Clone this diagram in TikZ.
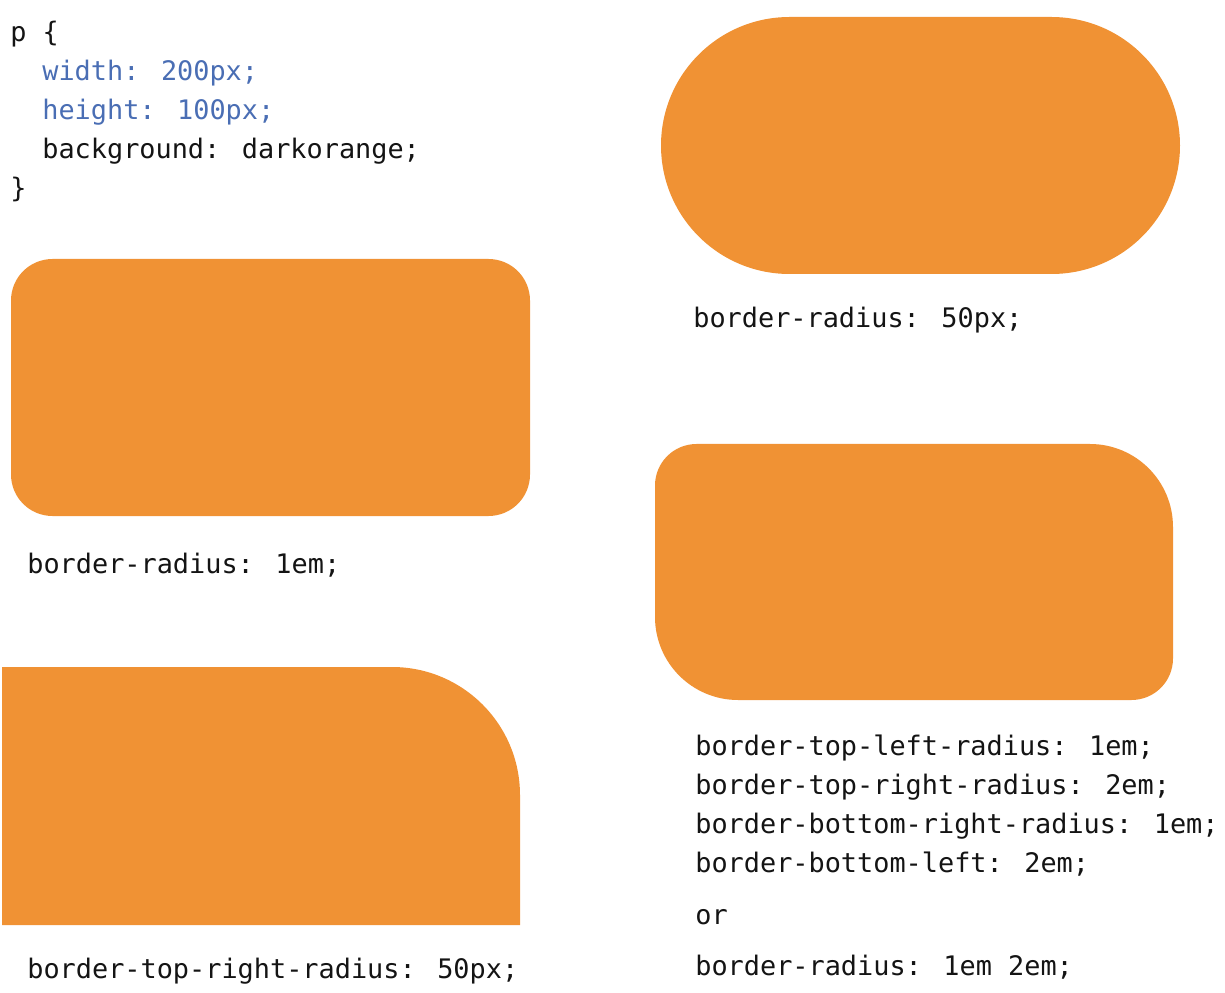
\documentclass[tikz,border=0pt]{standalone}
\usepackage{fontspec}
\newfontfamily\cssfont{DejaVu Sans Mono}
\usetikzlibrary{positioning}
\definecolor{boxorange}{RGB}{240,146,52}
\definecolor{propblue}{RGB}{74,110,180}
\definecolor{codeink}{RGB}{20,20,20}

\begin{document}
\begin{tikzpicture}[x=0.02cm, y=-0.02cm,
    blob/.style={fill=boxorange},
    csstext/.style={anchor=base west, inner sep=0pt, text=codeink,
      font=\cssfont\fontsize{15.3pt}{18pt}\selectfont},
    cssprop/.style={csstext, text=propblue}]
    \useasboundingbox (0,0) rectangle (1225,993);

    \node[csstext] (sel) at (10,42) {p \{};
    \node[cssprop] (wid) at (42,81) {width: 200px;};
    \node[cssprop] (hei) at (42,120) {height: 100px;};
    \node[csstext] (bg) at (42,159) {background: darkorange;};
    \node[csstext] (close) at (10,198) {\}};

    \fill[blob] (789.5,17) -- (1051.5,17) arc[start angle=270, end angle=450, radius=128.5]
      -- (789.5,274) arc[start angle=90, end angle=270, radius=128.5] -- cycle;
    \node[csstext] (pill) at (693,328) {border-radius: 50px;};

    \fill[blob] (11,300.5) arc[start angle=180, end angle=270, radius=41.5]
      -- (488.5,259) arc[start angle=270, end angle=360, radius=41.5]
      -- (530,474.5) arc[start angle=0, end angle=90, radius=41.5]
      -- (52.5,516) arc[start angle=90, end angle=180, radius=41.5] -- cycle;
    \node[csstext] (round) at (27,573) {border-radius: 1em;};

    \fill[blob] (655,485.5) arc[start angle=180, end angle=270, radius=41.5]
      -- (1090,444) arc[start angle=270, end angle=360, radius=83]
      -- (1173,658.5) arc[start angle=0, end angle=90, radius=41.5]
      -- (738,700) arc[start angle=90, end angle=180, radius=83] -- cycle;
    \node[csstext] (tl) at (695,755) {border-top-left-radius: 1em;};
    \node[csstext] (tr) at (695,794) {border-top-right-radius: 2em;};
    \node[csstext] (br) at (695,833) {border-bottom-right-radius: 1em;};
    \node[csstext] (bl) at (695,872) {border-bottom-left: 2em;};
    \node[csstext] (or) at (695,924) {or};
    \node[csstext] (short) at (695,975) {border-radius: 1em 2em;};

    \fill[blob] (2,667) -- (392,667) arc[start angle=270, end angle=360, radius=128]
      -- (520,925) -- (2,925) -- cycle;
    \node[csstext] (corner) at (27,978) {border-top-right-radius: 50px;};
\end{tikzpicture}
\end{document}
